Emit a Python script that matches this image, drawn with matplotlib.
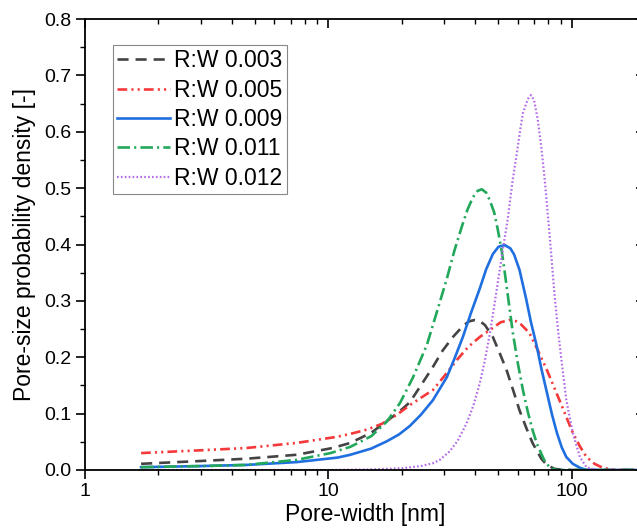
import matplotlib
matplotlib.use("Agg")
import matplotlib.pyplot as plt
from matplotlib.ticker import MultipleLocator, LogLocator, NullFormatter, FixedLocator

plt.rcParams['font.family'] = ['Liberation Sans', 'DejaVu Sans']
plt.rcParams['lines.scale_dashes'] = False

labels = ["R:W 0.003", "R:W 0.005", "R:W 0.009", "R:W 0.011", "R:W 0.012"]

x_003 = [1.7, 3, 4.6, 7.4, 10.4, 12.3, 15, 17.4, 19.5, 21.6, 24, 26.9, 29.5, 32.5, 36, 38, 40, 42, 44, 47.4, 50.5, 54, 57.5, 61, 65, 69, 75, 79, 85, 95, 200]
y_003 = [0.011, 0.016, 0.020, 0.027, 0.039, 0.048, 0.066, 0.087, 0.103, 0.120, 0.150, 0.183, 0.212, 0.236, 0.257, 0.264, 0.266, 0.264, 0.257, 0.236, 0.208, 0.177, 0.141, 0.106, 0.075, 0.048, 0.020, 0.009, 0.002, 0.0, 0.0]

x_005 = [1.7, 3, 4.6, 7.4, 10.9, 12.3, 14.5, 16.6, 19, 21.6, 24, 26.9, 30, 33.7, 37.5, 41.9, 47.4, 51, 55.6, 59, 62, 67, 73, 79.5, 84, 89, 95, 101, 108, 115, 124, 134, 150, 200]
y_005 = [0.030, 0.035, 0.039, 0.048, 0.059, 0.064, 0.072, 0.082, 0.097, 0.115, 0.128, 0.142, 0.167, 0.195, 0.218, 0.236, 0.252, 0.262, 0.266, 0.264, 0.258, 0.243, 0.210, 0.175, 0.150, 0.124, 0.094, 0.066, 0.042, 0.023, 0.011, 0.004, 0.0, 0.0]

x_009 = [1.7, 3, 4.6, 7.4, 10.9, 12.3, 15, 17.4, 19.5, 21.6, 24, 26.9, 30.7, 33, 35.7, 38.5, 41.9, 44.5, 47.4, 50, 53, 56, 58, 61, 65, 68, 71.8, 75, 79, 83, 86.9, 91, 95, 101, 108, 115, 200]
y_009 = [0.005, 0.007, 0.009, 0.014, 0.022, 0.027, 0.038, 0.051, 0.063, 0.078, 0.098, 0.124, 0.165, 0.198, 0.236, 0.278, 0.322, 0.356, 0.383, 0.396, 0.399, 0.393, 0.382, 0.355, 0.303, 0.262, 0.220, 0.180, 0.138, 0.098, 0.066, 0.040, 0.023, 0.011, 0.004, 0.0, 0.0]

x_011 = [1.7, 3, 4.6, 7.4, 10.2, 12.3, 15, 17.4, 19.7, 22.2, 25.4, 27.9, 30.7, 33, 35.3, 37.3, 39.3, 41, 42.7, 44.5, 46, 48, 49.7, 51.5, 53, 55, 57.3, 60, 63, 66, 69, 72, 77, 81, 86, 200]
y_011 = [0.005, 0.007, 0.009, 0.018, 0.030, 0.041, 0.060, 0.086, 0.119, 0.163, 0.222, 0.280, 0.340, 0.390, 0.431, 0.462, 0.484, 0.495, 0.498, 0.492, 0.479, 0.457, 0.426, 0.390, 0.352, 0.300, 0.243, 0.190, 0.142, 0.103, 0.071, 0.046, 0.018, 0.005, 0.0, 0.0]

x_012 = [1.7, 10, 15, 20, 24, 26.9, 28.7, 31.5, 34, 37, 39.5, 41.9, 44, 46, 48, 49.7, 52, 54.7, 57, 59.5, 61.5, 63, 66, 68, 70, 72.5, 75, 77.5, 81, 85, 88, 91, 95, 101, 108, 115, 125, 200]
y_012 = [0.0, 0.0, 0.001, 0.003, 0.007, 0.012, 0.018, 0.033, 0.052, 0.083, 0.115, 0.154, 0.195, 0.240, 0.290, 0.333, 0.388, 0.448, 0.510, 0.562, 0.605, 0.633, 0.658, 0.665, 0.656, 0.622, 0.572, 0.514, 0.420, 0.310, 0.245, 0.190, 0.124, 0.066, 0.023, 0.005, 0.0, 0.0]

colors = ["#444444", "#f5383a", "#1f6fe0", "#22a85a", "#b46ae6"]
styles = [(0, (8, 5)), (0, (7, 3, 1.5, 3, 1.5, 3)), '-', (0, (9, 3, 1.5, 3)), (0, (1.2, 1.6))]
widths = [1.9, 1.9, 1.9, 1.9, 1.6]

fig = plt.figure(figsize=(6.37, 5.32), dpi=100)
ax = fig.add_axes([85/637, (532-470)/532, (645-85)/637, (470-19)/532])

series = [(x_003, y_003), (x_005, y_005), (x_009, y_009), (x_011, y_011), (x_012, y_012)]
for (xs, ys), lab, c, ls, lw in zip(series, labels, colors, styles, widths):
    ax.plot(xs, ys, color=c, linestyle=ls, linewidth=lw, label=lab, clip_on=True,
            solid_joinstyle='round', dash_joinstyle='round')

ax.set_xscale('log')
ax.set_xlim(1, 200)
ax.set_ylim(0, 0.8)
ax.xaxis.set_major_locator(FixedLocator([1, 10, 100]))
ax.set_xticklabels(['1', '10', '100'])
ax.xaxis.set_minor_locator(LogLocator(base=10, subs=range(2, 10)))
ax.xaxis.set_minor_formatter(NullFormatter())
ax.yaxis.set_major_locator(MultipleLocator(0.1))
ax.yaxis.set_minor_locator(MultipleLocator(0.05))
ax.yaxis.set_major_formatter(plt.FormatStrFormatter('%.1f'))

for s in ax.spines.values():
    s.set_linewidth(1.3)

ax.tick_params(axis='both', which='major', direction='out', length=6.5, width=1.2, labelsize=14, pad=3)
ax.tick_params(axis='both', which='minor', direction='out', length=3.5, width=1.0)
ax.tick_params(axis='x', which='both', top=True)
ax.tick_params(axis='y', which='major', right=True)

for t in ax.xaxis.get_major_ticks() + ax.xaxis.get_minor_ticks():
    t.tick2line.set_marker(3)  # tick pointing down (inward at top)
for t in ax.yaxis.get_major_ticks():
    t.tick2line.set_marker(0)  # tick pointing left (inward at right)
ax.tick_params(axis='y', which='minor', right=False)

ax.set_xlabel('Pore-width [nm]', fontsize=16.5, labelpad=2)
ax.set_ylabel('Pore-size probability density [-]', fontsize=16.5, labelpad=6)

leg = ax.legend(loc='upper left', bbox_to_anchor=((113-85)/560, (470-45)/451),
                fontsize=16.5, frameon=True, fancybox=False, edgecolor='#888888',
                framealpha=1, borderpad=0.18, handlelength=2.3, handletextpad=0.2,
                labelspacing=0.28, borderaxespad=0)
leg.get_frame().set_linewidth(0.8)

fig.savefig('out.png', dpi=100)
